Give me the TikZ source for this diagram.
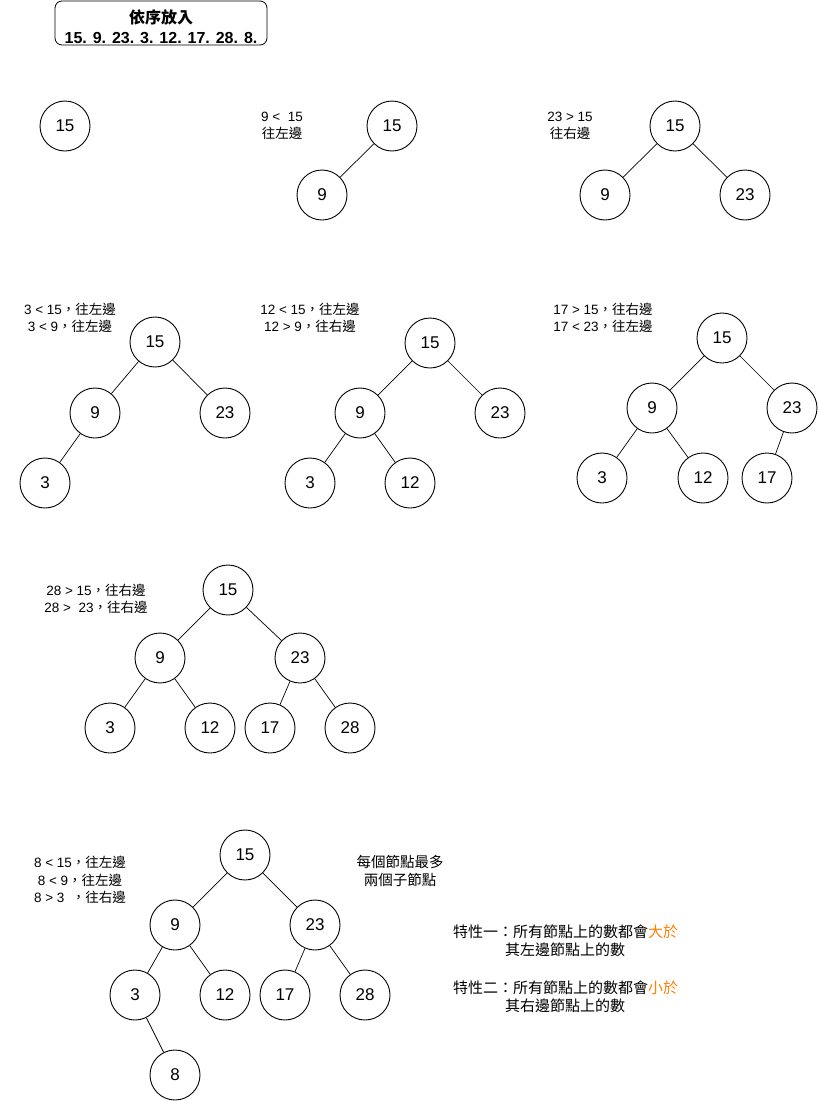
\documentclass[tikz,border=0pt]{standalone}
\usepackage{fontspec}
\setmainfont{Liberation Sans}
\newfontfamily\cjk{Noto Sans CJK TC}
\usetikzlibrary{positioning}
\definecolor{hiorange}{RGB}{255,128,0}
\tikzset{
  num/.style={circle, draw, line width=0.9pt, minimum size=50pt, inner sep=0pt, font=\fontsize{17}{17}\selectfont},
  note/.style={align=center, inner sep=0pt, font=\fontsize{13.5}{17.5}\selectfont},
  cnote/.style={align=left, inner sep=0pt, anchor=north west, font=\fontsize{15}{18}\selectfont\cjk},
  edge/.style={line width=0.7pt}
}
\begin{document}
\begin{tikzpicture}[x=1pt,y=-1pt]
\useasboundingbox (0,0) rectangle (819,1101);
\node[draw, rounded corners=7pt, line width=0.8pt, minimum width=212pt, minimum height=44pt] (titlebox) at (161,23){};
\node[align=center, inner sep=0pt, font=\fontsize{16}{20}\selectfont\bfseries] (title) at (161,27){{\cjk 依序放入}\\15. 9. 23. 3. 12. 17. 28. 8.};
% step 1
\node[num] (tid0) at (65,126){15};
% step 2
\node[num] (tid1) at (392,126){15};
\node[num] (tid2) at (322,195){9};
\draw[edge](tid1) -- (tid2);
\node[note] (lab2) at (282,126){9 <\ \ 15\\{\cjk 往左邊}};
% step 3
\node[num] (tid3) at (675,126){15};
\node[num] (tid4) at (605,195){9};
\node[num] (tid5) at (745,195){23};
\draw[edge](tid3) -- (tid4);
\draw[edge](tid3) -- (tid5);
\node[note] (lab3) at (570,126){23 > 15\\{\cjk 往右邊}};
% step 4
\node[num] (tid6) at (155,342){15};
\node[num] (tid7) at (95,413){9};
\node[num] (tid8) at (225,413){23};
\node[num] (tid9) at (45,483){3};
\draw[edge](tid6) -- (tid7);
\draw[edge](tid6) -- (tid8);
\draw[edge](tid7) -- (tid9);
\node[note] (lab4) at (70,318){3 < 15{\cjk ，往左邊}\\3 < 9{\cjk ，往左邊}};
% step 5
\node[num] (tid10) at (430,343){15};
\node[num] (tid11) at (360,413){9};
\node[num] (tid12) at (500,413){23};
\node[num] (tid13) at (310,483){3};
\node[num] (tid14) at (410,483){12};
\draw[edge](tid10) -- (tid11);
\draw[edge](tid10) -- (tid12);
\draw[edge](tid11) -- (tid13);
\draw[edge](tid11) -- (tid14);
\node[note] (lab5) at (310,318){12 < 15{\cjk ，往左邊}\\12 > 9{\cjk ，往右邊}};
% step 6
\node[num] (tid15) at (722,338){15};
\node[num] (tid16) at (652,408){9};
\node[num] (tid17) at (792,408){23};
\node[num] (tid18) at (602,478){3};
\node[num] (tid19) at (703,478){12};
\node[num] (tid20) at (767,478){17};
\draw[edge](tid15) -- (tid16);
\draw[edge](tid15) -- (tid17);
\draw[edge](tid16) -- (tid18);
\draw[edge](tid16) -- (tid19);
\draw[edge](tid17) -- (tid20);
\node[note] (lab6) at (603,318){17 > 15{\cjk ，往右邊}\\17 < 23{\cjk ，往左邊}};
% step 7
\node[num] (tid21) at (228,590){15};
\node[num] (tid22) at (160,658){9};
\node[num] (tid23) at (300,658){23};
\node[num] (tid24) at (110,728){3};
\node[num] (tid25) at (210,728){12};
\node[num] (tid26) at (270,728){17};
\node[num] (tid27) at (350,728){28};
\draw[edge](tid21) -- (tid22);
\draw[edge](tid21) -- (tid23);
\draw[edge](tid22) -- (tid24);
\draw[edge](tid22) -- (tid25);
\draw[edge](tid23) -- (tid26);
\draw[edge](tid23) -- (tid27);
\node[note] (lab7) at (96,599){28 > 15{\cjk ，往右邊}\\28 >\ \ 23{\cjk ，往右邊}};
% step 8
\node[num] (tid28) at (245,855){15};
\node[num] (tid29) at (175,925){9};
\node[num] (tid30) at (315,925){23};
\node[num] (tid31) at (135,995){3};
\node[num] (tid32) at (225,995){12};
\node[num] (tid33) at (285,995){17};
\node[num] (tid34) at (365,995){28};
\node[num] (tid35) at (175,1075){8};
\draw[edge](tid28) -- (tid29);
\draw[edge](tid28) -- (tid30);
\draw[edge](tid29) -- (tid31);
\draw[edge](tid29) -- (tid32);
\draw[edge](tid30) -- (tid33);
\draw[edge](tid30) -- (tid34);
\draw[edge](tid31) -- (tid35);
\node[note] (lab8) at (80,880){8 < 15{\cjk ，往左邊}\\8 < 9{\cjk ，往左邊}\\8 > 3\ \ {\cjk ，往右邊}};
% notes
\node[note, font=\fontsize{14.5}{18}\selectfont\cjk] (most) at (400,871){每個節點最多\\兩個子節點};
\node[cnote] (prop1) at (453,925){特性一：所有節點上的數都會\textcolor{hiorange}{大於}\\\hspace*{52pt}其左邊節點上的數};
\node[cnote] (prop2) at (453,981){特性二：所有節點上的數都會\textcolor{hiorange}{小於}\\\hspace*{52pt}其右邊節點上的數};
\end{tikzpicture}
\end{document}
